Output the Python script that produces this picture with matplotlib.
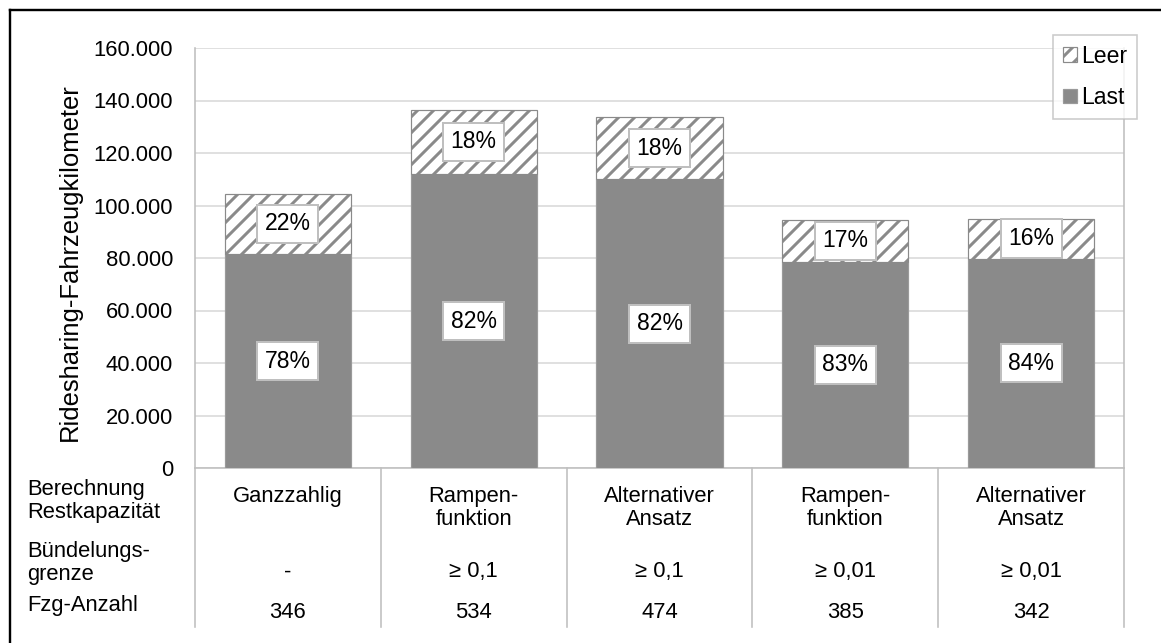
import numpy as np
import matplotlib
matplotlib.use('Agg')
import matplotlib.pyplot as plt
from matplotlib.lines import Line2D
import matplotlib.transforms as mtransforms

# Fahrzeugkilometer je Variante
calc_method = ['Ganzzahlig', 'Rampen-\nfunktion', 'Alternativer\nAnsatz',
               'Rampen-\nfunktion', 'Alternativer\nAnsatz']
bundle_limit = ['-', '≥ 0,1', '≥ 0,1', '≥ 0,01', '≥ 0,01']
vehicle_count = ['346', '534', '474', '385', '342']
total_km = np.array([104500, 136500, 133600, 94500, 95000])
last_km = np.array([81500, 112000, 110000, 78600, 79800])
leer_km = total_km - last_km

yticks = np.arange(0, 160001, 20000)

BAR = '#8a8a8a'
EDGE = '#9a9a9a'
GRID = '#d9d9d9'
FRAME = '#bfbfbf'

plt.rcParams.update({
    'font.family': ['Liberation Sans', 'DejaVu Sans'],
    'font.size': 11,
    'hatch.linewidth': 1.5,
})

fig = plt.figure(figsize=(1161 / 144, 643 / 144), dpi=144)
ax = fig.add_axes([195 / 1161, 1 - 468 / 643, (1124 - 195) / 1161, (468 - 48) / 643])

x = np.arange(len(total_km))
w = 0.68
ax.bar(x, last_km, w, color=BAR, edgecolor=EDGE, linewidth=0.6, zorder=3, label='Last')
ax.bar(x, leer_km, w, bottom=last_km, color='white', edgecolor=BAR, hatch='///',
       linewidth=0.6, zorder=3, label='Leer')

box = dict(boxstyle='square,pad=0.33', facecolor='white', edgecolor=FRAME, linewidth=1.0)
for i in x:
    p_last = last_km[i] / total_km[i] * 100
    p_leer = leer_km[i] / total_km[i] * 100
    ax.text(i, last_km[i] / 2, f'{p_last:.0f}%', ha='center', va='center', bbox=box,
            fontsize=11.5, zorder=5)
    ax.text(i, last_km[i] + leer_km[i] / 2, f'{p_leer:.0f}%', ha='center', va='center',
            bbox=box, fontsize=11.5, zorder=5)

ax.set_xlim(-0.5, len(x) - 0.5)
ax.set_ylim(0, 160000)
ax.set_yticks(yticks)
ax.set_yticklabels([f'{v:,.0f}'.replace(',', '.') for v in yticks])
ax.set_xticks([])
ax.tick_params(axis='y', length=0, pad=11)
ax.grid(axis='y', color=GRID, linewidth=0.8, zorder=0)
ax.spines['top'].set_visible(False)
for side in ['left', 'right', 'bottom']:
    ax.spines[side].set_color(FRAME)
    ax.spines[side].set_linewidth(0.8)

fig.text(70 / 1161, 1 - 262 / 643, 'Ridesharing-Fahrzeugkilometer', rotation=90,
         ha='center', va='center', fontsize=12.8)

# Tabelle unter der x-Achse
trans = mtransforms.blended_transform_factory(ax.transData, ax.transAxes)
px = 1 / 420  # Achsenanteil je Pixel in y
for xb in np.arange(-0.5, len(x), 1.0):
    ax.add_line(Line2D([xb, xb], [0, -(627 - 468) * px], transform=trans,
                       color=FRAME, linewidth=0.8, clip_on=False))

for i in x:
    ax.text(i, -(486 - 468) * px, calc_method[i], transform=trans, ha='center', va='top',
            linespacing=1.15)
    ax.text(i, -(572 - 468) * px, bundle_limit[i], transform=trans, ha='center', va='center')
    ax.text(i, -(612 - 468) * px, vehicle_count[i], transform=trans, ha='center', va='center')

row_labels = ['Berechnung\nRestkapazität', 'Bündelungs-\ngrenze', 'Fzg-Anzahl']
row_y = [501, 563, 606]
for lab, yy in zip(row_labels, row_y):
    fig.text(27 / 1161, 1 - yy / 643, lab, ha='left', va='center', linespacing=1.15)

handles, labels = ax.get_legend_handles_labels()
leg = fig.legend(handles[::-1], labels[::-1], loc='upper right',
                 bbox_to_anchor=(1137 / 1161, 1 - 35 / 643),
                 handlelength=0.6, handleheight=0.6, handletextpad=0.2,
                 labelspacing=0.8, borderpad=0.42, borderaxespad=0, fancybox=False,
                 frameon=True, fontsize=11.5)
leg.get_frame().set_edgecolor(FRAME)
leg.get_frame().set_linewidth(0.8)

# Rahmen links und oben
fig.add_artist(Line2D([10 / 1161, 10 / 1161], [-0.1, 1 - 10 / 643], transform=fig.transFigure,
                      color='black', linewidth=1.2))
fig.add_artist(Line2D([10 / 1161, 1.1], [1 - 10 / 643, 1 - 10 / 643], transform=fig.transFigure,
                      color='black', linewidth=1.2))

fig.savefig('out.png', dpi=144)
